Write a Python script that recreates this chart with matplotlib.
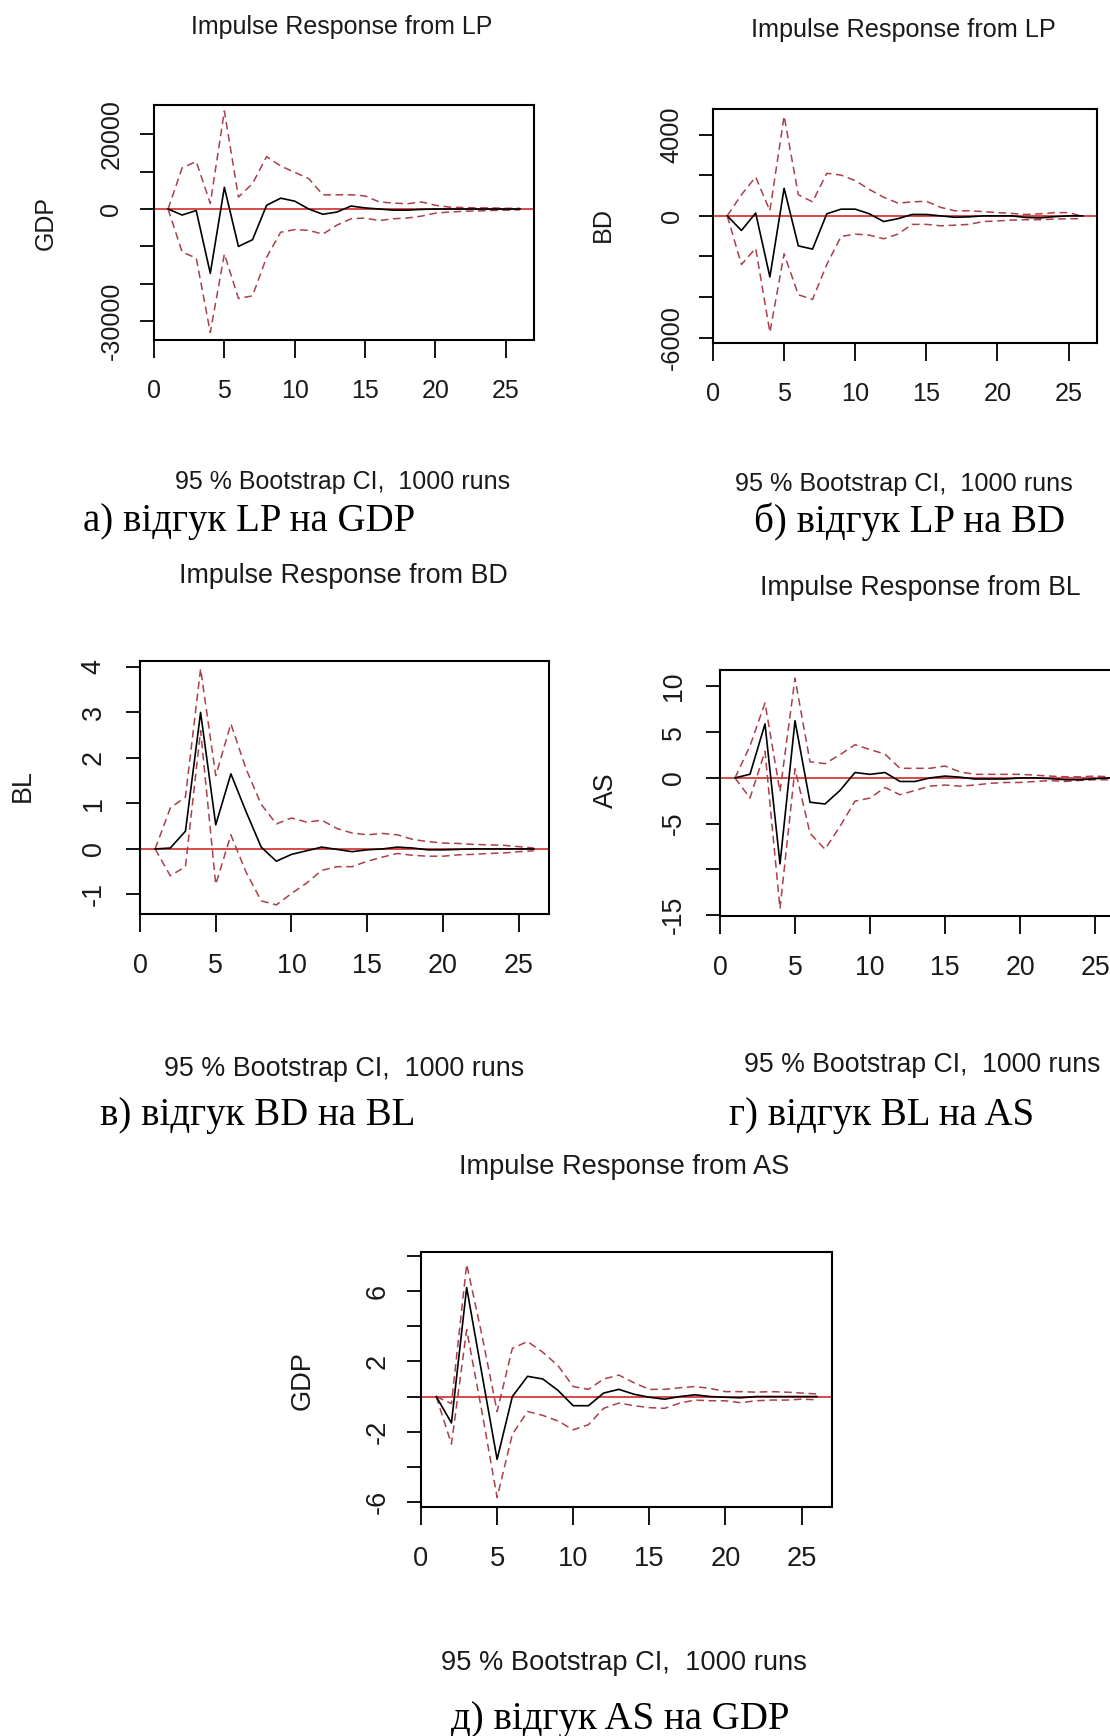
import numpy as np
import matplotlib
matplotlib.use("Agg")
import matplotlib.pyplot as plt

plt.rcParams['font.family'] = ['Liberation Sans', 'DejaVu Sans']

W, H = 1110, 1736
steps = np.arange(1, 27)

# LP -> GDP
lp_gdp = [0, -1600, -400, -17200, 5800, -10000, -8200, 1000, 2900, 2100, 0, -1400, -800,
          800, 300, 0, -300, -300, -100, 0, 0, 0, 0, 0, 0, 0]
lp_gdp_hi = [0, 11000, 12700, 1500, 26200, 3200, 6800, 14000, 11500, 9800, 8100, 3800, 3800,
             3800, 3500, 1900, 1600, 1400, 1900, 1000, 500, 400, 300, 300, 200, 200]
lp_gdp_lo = [0, -11500, -13100, -33000, -12000, -23900, -23200, -12900, -6200, -5500, -5700,
             -6700, -4300, -2600, -2400, -3100, -2600, -2400, -1900, -1100, -800, -600, -500,
             -400, -300, -200]

# LP -> BD
lp_bd = [0, -720, 140, -3010, 1360, -1480, -1640, 100, 330, 330, 100, -280, -140,
         70, 70, 0, -70, -50, 0, 0, 0, -80, -100, -40, 0, 0]
lp_bd_hi = [0, 1040, 1920, 250, 4920, 1040, 690, 2100, 2010, 1740, 1300, 920, 630,
            690, 720, 420, 250, 250, 210, 160, 120, 70, 100, 160, 160, -20]
lp_bd_lo = [0, -2400, -1600, -5740, -1870, -3890, -4120, -2400, -1020, -900, -950, -1130, -900,
            -420, -420, -490, -460, -420, -280, -250, -210, -190, -190, -160, -140, -140]

# BD -> BL
bd_bl = [0, 0.02, 0.39, 3.0, 0.53, 1.65, 0.82, 0.04, -0.27, -0.12, -0.04, 0.04, -0.01,
         -0.06, -0.02, 0, 0.04, 0.02, -0.02, -0.02, -0.01, 0, 0, 0, 0, 0]
bd_bl_hi = [0, 0.9, 1.14, 3.96, 1.61, 2.75, 1.76, 0.98, 0.55, 0.68, 0.59, 0.63, 0.45,
            0.35, 0.31, 0.34, 0.31, 0.21, 0.16, 0.13, 0.12, 0.10, 0.09, 0.08, 0.05, 0.02]
bd_bl_lo = [0, -0.59, -0.39, 2.6, -0.78, 0.31, -0.51, -1.14, -1.23, -0.98, -0.75, -0.47, -0.39,
            -0.39, -0.27, -0.18, -0.10, -0.14, -0.16, -0.16, -0.13, -0.12, -0.10, -0.09, -0.06, -0.04]

# BL -> AS
bl_as = [0, 0.4, 5.9, -9.4, 6.25, -2.66, -2.85, -1.37, 0.59, 0.39, 0.59, -0.39, -0.39,
         0, 0.2, 0.08, -0.12, -0.12, -0.12, 0, 0, -0.08, -0.2, -0.2, -0.08, 0]
bl_as_hi = [0, 3.5, 8.2, -1.5, 10.9, 1.76, 1.56, 2.54, 3.63, 3.1, 2.6, 1.05, 1.05,
            1.05, 1.3, 0.66, 0.39, 0.39, 0.39, 0.39, 0.3, 0.2, 0.12, 0.12, 0.2, 0.12]
bl_as_lo = [0, -2.2, 2.9, -14.3, 1.0, -6.05, -7.8, -5.3, -2.54, -2.2, -1.05, -1.84, -1.37,
            -0.9, -0.78, -0.9, -0.78, -0.59, -0.5, -0.5, -0.39, -0.3, -0.39, -0.27, -0.2, -0.2]

# AS -> GDP
as_gdp = [0, -1.5, 6.2, 1.3, -3.57, 0, 1.15, 1.0, 0.35, -0.52, -0.52, 0.2, 0.41,
          0.13, -0.04, -0.15, 0, 0.1, 0, -0.04, -0.07, 0, 0, 0, 0, 0]
as_gdp_hi = [0, -0.4, 7.52, 3.5, -0.85, 2.74, 3.13, 2.52, 1.76, 0.57, 0.41, 1.0, 1.22,
             0.78, 0.41, 0.41, 0.5, 0.57, 0.46, 0.28, 0.28, 0.25, 0.28, 0.25, 0.2, 0.15]
as_gdp_lo = [0, -2.7, 3.8, -0.85, -5.74, -2.15, -0.85, -1.07, -1.39, -1.89, -1.6, -0.67, -0.37,
             -0.52, -0.63, -0.67, -0.37, -0.2, -0.24, -0.24, -0.35, -0.24, -0.2, -0.2, -0.15, -0.18]

x_ticks = [0, 5, 10, 15, 20, 25]
ci_note = "95 % Bootstrap CI,  1000 runs"

TXT = '#1a1a1a'
CI_RED = '#a9404a'
ZERO_RED = '#d42a2a'

fig = plt.figure(figsize=(W / 100, H / 100), dpi=100)


def fx(px):
    return px / W


def fy(py):
    return 1 - py / H


def panel(box, resp, lo, hi, ylim, yticks, shown, impulse, response, fs,
          title_xy, ylab_xy, note_xy, ypad):
    x0, y0, x1, y1 = box
    ax = fig.add_axes([fx(x0), fy(y1), (x1 - x0) / W, (y1 - y0) / H])
    ax.axhline(0, color=ZERO_RED, lw=1.2, zorder=1)
    ax.plot(steps, hi, color=CI_RED, lw=1.1, ls=(0, (5, 3)), zorder=2)
    ax.plot(steps, lo, color=CI_RED, lw=1.1, ls=(0, (5, 3)), zorder=2)
    ax.plot(steps, resp, color='black', lw=1.2, zorder=3)
    ax.set_xlim(0, 27)
    ax.set_ylim(*ylim)
    ax.set_xticks(x_ticks)
    ax.set_xticklabels([str(t) for t in x_ticks])
    ax.set_yticks(yticks)
    ax.set_yticklabels([f'{t:g}' if t in shown else '' for t in yticks],
                       rotation=90, va='center')
    ax.tick_params(axis='x', direction='out', length=13, width=1.3,
                   labelsize=fs, pad=15, colors='black', labelcolor=TXT)
    ax.tick_params(axis='y', direction='out', length=10, width=1.3,
                   labelsize=fs, pad=ypad, colors='black', labelcolor=TXT)
    for s in ax.spines.values():
        s.set_linewidth(1.5)
    fig.text(fx(title_xy[0]), fy(title_xy[1]), f"Impulse Response from {impulse}",
             ha='center', va='center', fontsize=fs, color=TXT)
    fig.text(fx(ylab_xy[0]), fy(ylab_xy[1]), response, rotation=90,
             ha='center', va='center', fontsize=fs, color=TXT)
    fig.text(fx(note_xy[0]), fy(note_xy[1]), ci_note,
             ha='center', va='center', fontsize=fs, color=TXT)
    return ax


panel((154, 105, 534, 340), lp_gdp, lp_gdp_lo, lp_gdp_hi, (-35000, 27800),
      [-30000, -20000, -10000, 0, 10000, 20000], [20000, 0, -30000],
      "LP", "GDP", 18, (342, 27), (46, 223), (343, 482), 12)
panel((713, 109, 1097, 343), lp_bd, lp_bd_lo, lp_bd_hi, (-6270, 5270),
      [-6000, -4000, -2000, 0, 2000, 4000], [4000, 0, -6000],
      "LP", "BD", 18.2, (903, 30), (603, 225), (904, 484), 11)
panel((140, 661, 549, 914), bd_bl, bd_bl_lo, bd_bl_hi, (-1.43, 4.13),
      [-1, 0, 1, 2, 3, 4], [-1, 0, 1, 2, 3, 4],
      "BD", "BL", 19.4, (343, 576), (23, 786), (344, 1069), 14)
panel((720, 670, 1125, 916), bl_as, bl_as_lo, bl_as_hi, (-15.1, 11.8),
      [-15, -10, -5, 0, 5, 10], [10, 5, 0, -5, -15],
      "BL", "AS", 19.2, (920, 588), (606, 790), (922, 1065), 14)
panel((421, 1252, 832, 1507), as_gdp, as_gdp_lo, as_gdp_hi, (-6.28, 8.22),
      [-6, -4, -2, 0, 2, 4, 6, 8], [6, 2, -2, -6],
      "AS", "GDP", 19.6, (624, 1167), (303, 1381), (624, 1663), 12)

# Ukrainian captions under each chart
captions = [
    ("а) відгук LP на GDP", 249, 522),
    ("б) відгук LP на BD", 910, 522),
    ("в) відгук BD на BL", 258, 1116),
    ("г) відгук BL на AS", 882, 1116),
    ("д) відгук AS на GDP", 620, 1719),
]
for text, cx, cy in captions:
    fig.text(fx(cx), fy(cy), text, ha='center', va='center', fontsize=28,
             family=['Liberation Serif', 'DejaVu Serif'], color='black')

fig.savefig("out.png", dpi=100, facecolor='white')
